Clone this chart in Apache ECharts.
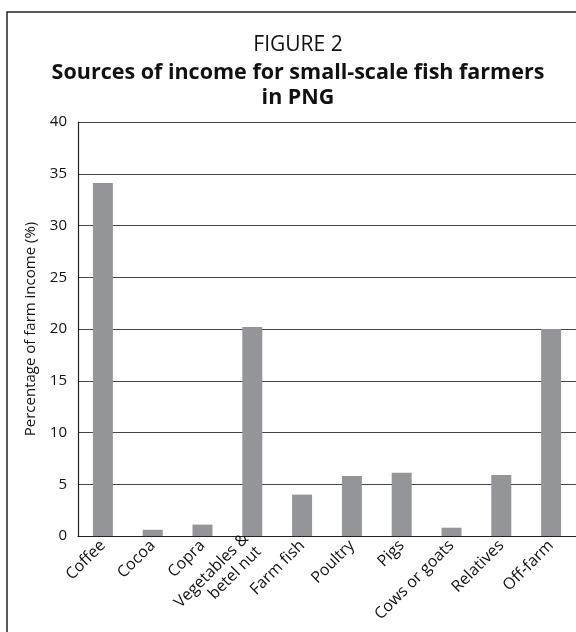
<!DOCTYPE html>
<html>
<head>
<meta charset="utf-8">
<script src="https://cdn.jsdelivr.net/npm/echarts@6/dist/echarts.min.js"></script>
<style>
html,body{margin:0;padding:0;background:#fff;}
#c{width:576px;height:632px;}
</style>
</head>
<body>
<div id="c"></div>
<script>
var categories = ['Coffee', 'Cocoa', 'Copra', 'Vegetables &\nbetel nut', 'Farm fish', 'Poultry', 'Pigs', 'Cows or goats', 'Relatives', 'Off-farm'];
var values = [34.1, 0.6, 1.1, 20.2, 4.0, 5.8, 6.1, 0.8, 5.9, 20.0];
var yTicks = [0, 5, 10, 15, 20, 25, 30, 35, 40];

var FONT = '"Open Sans", "Noto Sans", sans-serif';
var chart = echarts.init(document.getElementById('c'), null, {renderer: 'canvas'});
chart.setOption({
  animation: false,
  backgroundColor: '#fff',
  title: [
    {text: 'FIGURE 2', left: 293, top: 30, textAlign: 'center',
     textStyle: {fontFamily: FONT, fontSize: 21, fontWeight: 'normal', color: '#111'}},
    {text: 'Sources of income for small-scale fish farmers\nin PNG', left: 293, top: 55, textAlign: 'center',
     textStyle: {fontFamily: FONT, fontSize: 21.5, fontWeight: 'bold', color: '#111', lineHeight: 25}}
  ],
  graphic: [
    {type: 'rect', shape: {x: 7, y: 12, width: 700, height: 700}, silent: true, z: -1,
     style: {fill: 'none', stroke: '#222', lineWidth: 1.5}}
  ],
  grid: {left: 78, right: -2, top: 122, bottom: 96, containLabel: false},
  xAxis: {
    type: 'category', data: categories,
    axisLine: {show: true, lineStyle: {color: '#222', width: 1.2}},
    axisTick: {show: false},
    axisLabel: {rotate: 45, fontFamily: FONT, fontSize: 16, color: '#111', margin: 7, interval: 0, lineHeight: 18}
  },
  yAxis: {
    type: 'value', min: yTicks[0], max: yTicks[yTicks.length - 1], interval: 5,
    name: 'Percentage of farm income (%)', nameLocation: 'middle', nameGap: 40,
    nameTextStyle: {fontFamily: FONT, fontSize: 15, color: '#111'},
    axisLine: {show: true, lineStyle: {color: '#222', width: 1.2}},
    axisTick: {show: false},
    axisLabel: {fontFamily: FONT, fontSize: 15, color: '#111', margin: 11},
    splitLine: {show: true, lineStyle: {color: '#444', width: 1.2}}
  },
  series: [{
    type: 'bar', data: values, barWidth: 20,
    itemStyle: {color: '#939598'}
  }]
});
</script>
</body>
</html>
